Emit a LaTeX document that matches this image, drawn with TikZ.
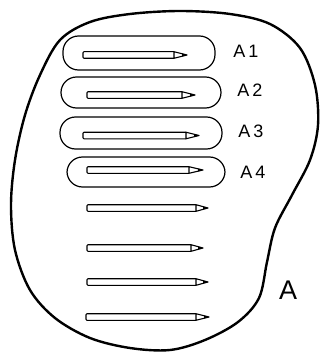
\documentclass[tikz,border=0pt]{standalone}
\usepackage{fontspec}
\setmainfont{Liberation Sans}
\usepackage{tikz}
\usetikzlibrary{positioning}

\tikzset{
  outline/.style={line width=2.4pt, line join=round},
  loop/.style={line width=1.2pt, rounded corners=15.5pt},
  pencil/.style={line width=1.1pt, line join=round},
  lbl/.style={font=\fontsize{18}{20}\selectfont, inner sep=0pt}
}

\begin{document}
\begin{tikzpicture}[x=1pt, y=-1pt]

  \useasboundingbox (0,0) rectangle (320,353);

  % Set A
  \draw[outline] plot[smooth cycle, tension=0.55] coordinates {
    (60,40) (90,22) (130,14) (180,11) (230,14) (270,24) (300,48)
    (315,85) (318,125) (310,160) (292,195) (275,228) (267,262)
    (259,298) (238,322) (205,340) (170,350) (130,348) (90,338)
    (55,318) (30,290) (15,250) (11,205) (15,160) (25,115) (40,75)};
  \node[font=\fontsize{27}{30}\selectfont, inner sep=0pt] (lblA) at (288,290) {A};

  % Subsets A1 - A4
  \foreach \i/\xl/\xr/\yt/\yb in {1/63/215/36/70, 2/61/221/77/108, 3/60/222/117/149, 4/67/225/157/187}{
    \draw[loop] (\xl,\yt) rectangle (\xr,\yb);
  }
  \foreach \i/\x/\y in {1/246/51, 2/250/90, 3/251/131, 4/253/172}{
    \node[lbl] (lblA\i) at (\x,\y) {A\,\i};
  }

  % Pencils
  \foreach \xl/\xr/\y/\tip in {
    83/174/55/187,
    87/182/95/195,
    83/186/135.5/199,
    87/189/170/203,
    87/196/208/208,
    87/191/248/203,
    87/196/282/208,
    86/196/317/209
  }{
    \draw[pencil, rounded corners=1pt] (\xr,{\y-3.3}) -- (\xl,{\y-3.3}) -- (\xl,{\y+3.3}) -- (\xr,{\y+3.3});
    \draw[pencil] (\xr,{\y-3.3}) -- (\tip,\y) -- (\xr,{\y+3.3}) -- cycle;
    \fill ({\tip-5},{\y-1.5}) -- (\tip,\y) -- ({\tip-5},{\y+1.5}) -- cycle;
  }

\end{tikzpicture}
\end{document}
